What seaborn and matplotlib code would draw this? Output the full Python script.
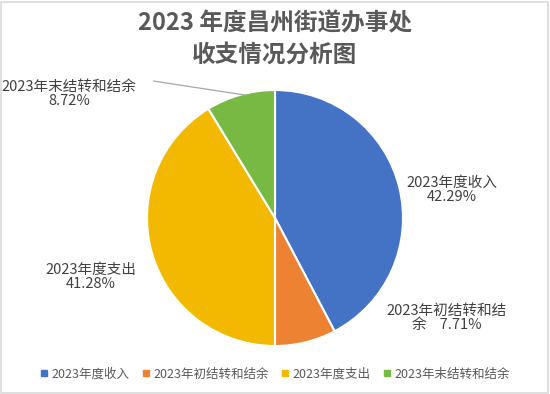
import matplotlib
matplotlib.use("Agg")
import matplotlib.pyplot as plt
import seaborn as sns
from matplotlib.patches import Rectangle
from matplotlib.lines import Line2D

categorias = ["2023年度收入", "2023年初结转和结余", "2023年度支出", "2023年末结转和结余"]
percentuais = [42.29, 7.71, 41.28, 8.72]
rotulos = ["2023年度收入\n42.29%", "2023年初结转和结\n余    7.71%",
           "2023年度支出\n41.28%", "2023年末结转和结余\n8.72%"]
cores = ["#4472C4", "#EE8233", "#F3B800", "#77B943"]

sns.set_theme(style="white")
plt.rcParams["font.family"] = ["Noto Sans CJK SC", "DejaVu Sans"]

fig = plt.figure(figsize=(5.5, 3.94), dpi=100)
# pie centre (275, 218) px, radius 128 px
ax = fig.add_axes([(275 - 128) / 550, (394 - 218 - 128) / 394, 256 / 550, 256 / 394])
ax.pie(percentuais, colors=cores, startangle=90, counterclock=False,
       wedgeprops=dict(edgecolor="white", linewidth=1.5))
ax.set_xlim(-1, 1)
ax.set_ylim(-1, 1)
ax.set_aspect("equal")
ax.axis("off")

# label positions (in pie radius units)
posicoes = [(1.38, 0.22), (1.34, -0.78), (-1.44, -0.46), (-1.61, 0.97)]
for texto, (x, y) in zip(rotulos, posicoes):
    ax.text(x, y, texto, ha="center", va="center", fontsize=10.5,
            color="#404040", linespacing=1.05, clip_on=False)

# leader line for the last slice
ax.plot([-0.95, -0.23], [1.07, 0.96], color="#A6A6A6", lw=0.9, clip_on=False)

fig.text(0.5, 1 - 23 / 394, "2023 年度昌州街道办事处", ha="center", va="center",
         fontsize=17, fontweight="bold", color="#595959")
fig.text(0.5, 1 - 55 / 394, "收支情况分析图", ha="center", va="center",
         fontsize=17, fontweight="bold", color="#595959")

handles = [Line2D([0], [0], marker="s", linestyle="", markersize=4.5,
                  markerfacecolor=c, markeredgecolor=c) for c in cores]
leg = fig.legend(handles, categorias, loc="center", bbox_to_anchor=(0.5, 1 - 374 / 394),
                 ncol=4, frameon=False, fontsize=9, handlelength=0.6,
                 handletextpad=0.3, columnspacing=1.0)
for t in leg.get_texts():
    t.set_color("#595959")

fig.patches.append(Rectangle((0.002, 0.003), 0.995, 0.993, transform=fig.transFigure,
                             fill=False, edgecolor="#D9D9D9", linewidth=1.2))

fig.savefig("out.png", dpi=100, facecolor="white")
